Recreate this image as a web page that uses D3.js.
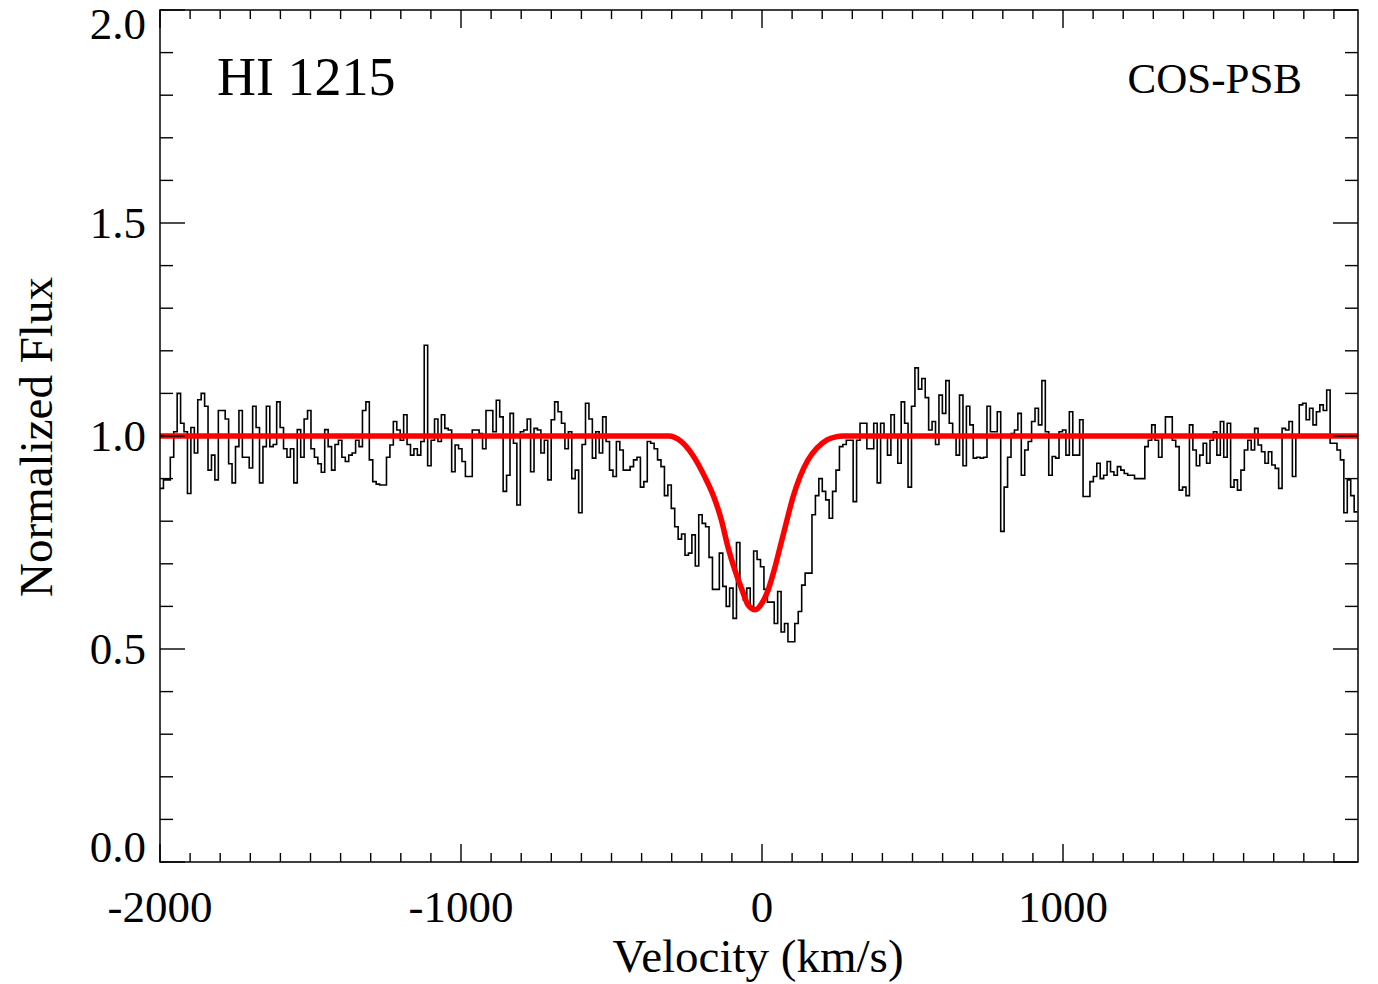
<!DOCTYPE html>
<html>
<head>
<meta charset="utf-8">
<script src="https://cdn.jsdelivr.net/npm/d3@7"></script>
<style>
  html, body { margin: 0; padding: 0; background: #fff; }
  svg text { font-family: "Liberation Serif", "Times New Roman", serif; fill: #000; }
</style>
</head>
<body>
<svg id="chart" width="1378" height="984"></svg>
<script>
// ---- data ----
const velocityStart = -2000;   // km/s, left edge of first bin
const binWidth = 11.4;         // km/s per spectral bin
const flux = [
  0.877,0.897,0.897,0.95,1.01,1.10,1.03,1.01,0.865,1.02,0.96,1.085,1.10,1.07,0.92,0.955,0.897,1.06,1.06,1.04,
  0.935,0.89,0.975,1.06,0.95,0.95,0.925,1.07,1.02,0.89,0.975,1.07,0.975,0.98,1.08,1.02,0.97,0.95,0.97,0.89,
  1.015,0.95,1.04,1.06,0.97,0.95,0.935,0.915,1.015,0.975,0.92,0.98,0.99,0.95,0.94,0.955,0.96,0.99,0.975,1.06,
  1.08,0.944,0.893,0.887,0.885,0.885,0.95,0.979,1.034,1.014,0.99,1.05,0.98,0.955,0.97,0.955,0.987,1.213,0.93,0.99,
  1.04,0.987,1.05,1.018,1.014,0.916,0.979,0.97,0.94,0.905,0.905,1.014,1.014,1.006,0.97,1.06,1.06,1.01,1.084,1.045,
  0.87,0.908,1.053,0.983,0.838,1.01,1.014,1.04,0.916,1.018,1.014,0.96,0.99,0.897,1.038,1.08,1.057,1.03,
  0.97,1.01,0.90,0.92,0.82,0.98,1.077,1.04,0.948,1.01,0.96,1.045,0.987,0.92,0.905,0.987,0.967,0.92,0.92,0.928,
  0.944,0.95,0.88,0.893,0.987,0.983,0.97,0.944,0.928,0.86,0.885,0.83,0.787,0.758,0.77,0.72,0.725,0.768,0.695,0.815,
  0.795,0.787,0.715,0.64,0.64,0.725,0.647,0.60,0.643,0.572,0.75,0.643,0.615,0.643,0.60,0.73,0.71,0.693,
  0.64,0.61,0.61,0.56,0.635,0.54,0.56,0.517,0.517,0.56,0.588,0.65,0.678,0.678,0.815,0.86,0.90,0.87,0.85,0.807,
  0.87,0.92,0.975,0.98,0.99,
  0.99,0.846,0.99,1.03,1.03,0.97,0.97,1.03,0.89,1.03,1.0,0.955,1.05,1.0,0.936,1.08,1.03,0.88,1.07,
  1.16,1.11,1.135,1.09,1.014,1.034,0.98,1.096,1.053,1.13,1.03,1.0,0.955,1.096,
  0.93,1.07,1.026,0.948,0.95,0.948,0.95,1.07,1.01,1.01,1.057,0.776,0.88,0.95,1.006,1.014,1.053,0.908,0.967,
  0.987,1.034,1.065,1.026,1.13,1.01,0.908,0.952,0.948,1.01,1.014,0.955,1.057,0.955,0.955,1.038,0.858,0.858,0.893,0.905,
  0.936,0.9,0.908,0.94,0.916,0.908,0.928,0.92,0.912,0.908,0.908,0.9,0.9,0.9,0.975,0.99,1.026,0.99,0.95,1.0,
  1.045,1.045,0.99,0.975,0.873,0.88,0.86,1.026,0.967,0.93,0.955,0.983,0.936,0.99,1.01,0.955,1.034,0.95,1.03,0.88,
  0.897,0.873,0.92,0.967,0.99,0.967,1.018,0.979,0.963,0.936,0.963,0.932,0.924,0.877,1.018,1.014,1.034,0.905,1.0,1.073,
  1.077,1.038,1.065,1.026,1.057,1.073,1.06,1.108,0.983,0.983,0.967,0.944,0.82,0.897,0.86,0.822
];
const modelVelocity = [-2000,-310,-270,-230,-190,-160,-135,-113,-90,-66,-46,-23,0,20,43,60,83,103,126,153,183,216,245,270,1980];
const modelFlux     = [1,1,0.988,0.955,0.904,0.857,0.803,0.739,0.685,0.638,0.603,0.592,0.608,0.638,0.692,0.739,0.803,0.857,0.904,0.944,0.972,0.991,0.998,1,1];
const xMajorTicks = [-2000,-1000,0,1000];
const xTickLabels = ["-2000","-1000","0","1000"];
const yMajorTicks = [0,0.5,1.0,1.5,2.0];
const yTickLabels = ["0.0","0.5","1.0","1.5","2.0"];
const xDomain = [-2000,1980];
const yDomain = [0,2];
const lineLabel = "HI 1215";
const sampleLabel = "COS-PSB";

// ---- layout ----
const L = 160, R = 1358, T = 10, B = 862;
const svg = d3.select("#chart");
const x = d3.scaleLinear().domain(xDomain).range([L, R]);
const y = d3.scaleLinear().domain(yDomain).range([B, T]);

svg.append("defs").append("clipPath").attr("id","plotclip")
  .append("rect").attr("x",L).attr("y",T).attr("width",R-L).attr("height",B-T);

// spectrum histogram (step)
const stepPts = flux.map((f,i)=>[velocityStart + i*binWidth, f]);
stepPts.push([velocityStart + flux.length*binWidth, flux[flux.length-1]]);
const stepLine = d3.line().x(d=>x(d[0])).y(d=>y(d[1])).curve(d3.curveStepAfter);
svg.append("path").attr("clip-path","url(#plotclip)")
  .attr("d", stepLine(stepPts))
  .attr("fill","none").attr("stroke","#000").attr("stroke-width",1.6)
  .attr("stroke-linejoin","miter");

// model
const modelLine = d3.line().x((d,i)=>x(modelVelocity[i])).y(d=>y(d)).curve(d3.curveMonotoneX);
svg.append("path").attr("clip-path","url(#plotclip)")
  .attr("d", modelLine(modelFlux))
  .attr("fill","none").attr("stroke","#ff0000").attr("stroke-width",5.5);

// frame
svg.append("rect").attr("x",L).attr("y",T).attr("width",R-L).attr("height",B-T)
  .attr("fill","none").attr("stroke","#000").attr("stroke-width",1.5);

// x ticks (bottom and top)
const xMinor = d3.range(-1900, 1980, 100).filter(v=>!xMajorTicks.includes(v));
const gt = svg.append("g").attr("stroke","#000").attr("stroke-width",1.4);
xMajorTicks.forEach(v=>{
  gt.append("line").attr("x1",x(v)).attr("x2",x(v)).attr("y1",B).attr("y2",B-18);
  gt.append("line").attr("x1",x(v)).attr("x2",x(v)).attr("y1",T).attr("y2",T+18);
});
xMinor.forEach(v=>{
  gt.append("line").attr("x1",x(v)).attr("x2",x(v)).attr("y1",B).attr("y2",B-9);
  gt.append("line").attr("x1",x(v)).attr("x2",x(v)).attr("y1",T).attr("y2",T+9);
});
// y ticks (left and right)
const yMinor = d3.range(1,20).map(k=>k/10).filter(v=>!yMajorTicks.some(m=>Math.abs(m-v)<1e-9));
yMajorTicks.forEach(v=>{
  gt.append("line").attr("x1",L).attr("x2",L+25).attr("y1",y(v)).attr("y2",y(v));
  gt.append("line").attr("x1",R).attr("x2",R-25).attr("y1",y(v)).attr("y2",y(v));
});
yMinor.forEach(v=>{
  gt.append("line").attr("x1",L).attr("x2",L+13).attr("y1",y(v)).attr("y2",y(v));
  gt.append("line").attr("x1",R).attr("x2",R-13).attr("y1",y(v)).attr("y2",y(v));
});

// x tick labels
xMajorTicks.forEach((v,i)=>{
  svg.append("text").attr("x",x(v)).attr("y",922).attr("text-anchor","middle")
    .style("font-size","45px").text(xTickLabels[i]);
});
// y tick labels
yMajorTicks.forEach((v,i)=>{
  let by = y(v) + 15;
  if (i === 0) by = y(v);
  if (i === yMajorTicks.length-1) by = y(v) + 29;
  svg.append("text").attr("x",146).attr("y",by).attr("text-anchor","end")
    .style("font-size","45px").text(yTickLabels[i]);
});

// axis titles
svg.append("text").attr("x",758).attr("y",972).attr("text-anchor","middle")
  .style("font-size","47px").text("Velocity (km/s)");
svg.append("text").attr("transform","translate(52,437) rotate(-90)").attr("text-anchor","middle")
  .style("font-size","47px").text("Normalized Flux");

// annotations
svg.append("text").attr("x",217).attr("y",95).style("font-size","54px").text(lineLabel);
svg.append("text").attr("x",1302).attr("y",93).attr("text-anchor","end").style("font-size","43px").text(sampleLabel);
</script>
</body>
</html>
